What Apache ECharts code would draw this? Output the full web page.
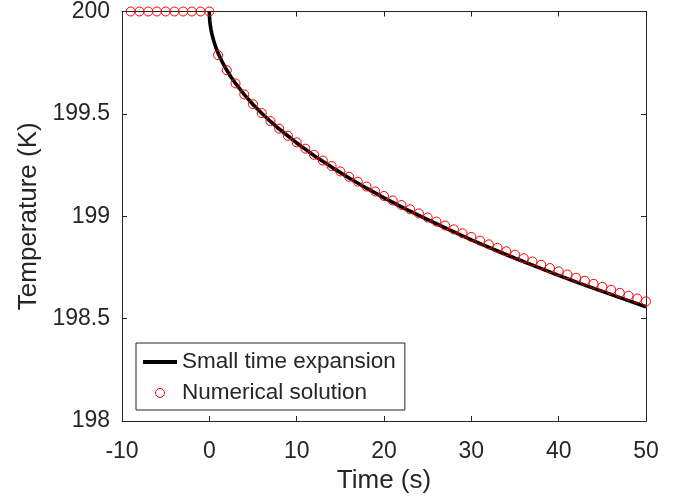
<!DOCTYPE html>
<html>
<head>
<meta charset="utf-8">
<script src="https://cdn.jsdelivr.net/npm/echarts@6/dist/echarts.min.js"></script>
<style>
  html, body { margin: 0; padding: 0; background: #ffffff; }
  #chart { width: 687px; height: 500px; }
</style>
</head>
<body>
<div id="chart"></div>
<script>
// ---- Data ----
var xTicks = [-10, 0, 10, 20, 30, 40, 50];
var yTicks = [198, 198.5, 199, 199.5, 200];

// Small time expansion (solid black line): time (s) and temperature (K)
var lineTime = [0, 0.02, 0.05, 0.1, 0.2, 0.3, 0.5, 0.75, 1, 1.5, 2, 2.5, 3, 4, 5, 6, 7, 8, 10, 12, 14, 16, 18, 20,
  22.5, 25, 27.5, 30, 32.5, 35, 37.5, 40, 42.5, 45, 47.5, 50];
var lineTemp = [200, 199.971, 199.955, 199.936, 199.909, 199.889, 199.857, 199.824, 199.797, 199.752, 199.713,
  199.679, 199.649, 199.594, 199.546, 199.503, 199.463, 199.426, 199.358, 199.296, 199.240, 199.187, 199.137,
  199.090, 199.035, 198.983, 198.933, 198.885, 198.839, 198.795, 198.753, 198.711, 198.671, 198.633, 198.595,
  198.558];

// Numerical solution (red open circles): one point per second from -9 s to 50 s
var numTime = [-9, -8, -7, -6, -5, -4, -3, -2, -1, 0,
  1, 2, 3, 4, 5, 6, 7, 8, 9, 10, 11, 12, 13, 14, 15, 16, 17, 18, 19, 20,
  21, 22, 23, 24, 25, 26, 27, 28, 29, 30, 31, 32, 33, 34, 35, 36, 37, 38, 39, 40,
  41, 42, 43, 44, 45, 46, 47, 48, 49, 50];
var numTemp = [200, 200, 200, 200, 200, 200, 200, 200, 200, 200,
  199.787, 199.713, 199.649, 199.595, 199.547, 199.504, 199.465, 199.428, 199.393, 199.361,
  199.330, 199.300, 199.272, 199.245, 199.219, 199.193, 199.169, 199.145, 199.121, 199.099,
  199.077, 199.055, 199.034, 199.014, 198.994, 198.974, 198.955, 198.936, 198.917, 198.899,
  198.881, 198.863, 198.846, 198.829, 198.812, 198.795, 198.779, 198.763, 198.747, 198.731,
  198.716, 198.700, 198.685, 198.670, 198.655, 198.641, 198.626, 198.612, 198.598, 198.584];

var seriesNames = ['Small time expansion', 'Numerical solution'];
var axisTitles = { x: 'Time (s)', y: 'Temperature (K)' };

// ---- Build chart ----
function pairs(xs, ys) { return xs.map(function (x, i) { return [x, ys[i]]; }); }

var FONT = '"Liberation Sans", Arial, Helvetica, sans-serif';
var INK = '#262626';
var CLEAR = 'rgba(0,0,0,0)';

var chart = echarts.init(document.getElementById('chart'), null, { renderer: 'canvas' });

var xMin = xTicks[0], xMax = xTicks[xTicks.length - 1], xStep = xTicks[1] - xTicks[0];
var yMin = yTicks[0], yMax = yTicks[yTicks.length - 1], yStep = yTicks[1] - yTicks[0];

function baseAxisLine() {
  return { show: true, onZero: false, lineStyle: { color: INK, width: 1 } };
}

var option = {
  animation: false,
  backgroundColor: '#ffffff',
  grid: { left: 122, right: 41, top: 9, bottom: 79, containLabel: false },
  xAxis: [
    {
      type: 'value', position: 'bottom', min: xMin, max: xMax, interval: xStep,
      axisLine: baseAxisLine(),
      axisTick: { show: true, inside: true, length: 5, lineStyle: { color: INK, width: 1 } },
      axisLabel: { show: true, margin: 19, color: INK, fontSize: 23, fontFamily: FONT },
      splitLine: { show: false },
      name: axisTitles.x, nameLocation: 'middle', nameGap: 45,
      nameTextStyle: { color: INK, fontSize: 26, fontFamily: FONT }
    },
    {
      type: 'value', position: 'top', min: xMin, max: xMax, interval: xStep,
      axisLine: baseAxisLine(),
      axisTick: { show: true, inside: true, length: 5, lineStyle: { color: INK, width: 1 } },
      axisLabel: { show: false },
      splitLine: { show: false }
    }
  ],
  yAxis: [
    {
      type: 'value', position: 'left', min: yMin, max: yMax, interval: yStep,
      axisLine: baseAxisLine(),
      axisTick: { show: true, inside: true, length: 5, lineStyle: { color: INK, width: 1 } },
      axisLabel: { show: true, margin: 12, color: INK, fontSize: 23, fontFamily: FONT },
      splitLine: { show: false },
      name: axisTitles.y, nameLocation: 'middle', nameGap: 79, nameRotate: 90,
      nameTextStyle: { color: INK, fontSize: 26, fontFamily: FONT }
    },
    {
      type: 'value', position: 'right', min: yMin, max: yMax, interval: yStep,
      axisLine: baseAxisLine(),
      axisTick: { show: true, inside: true, length: 5, lineStyle: { color: INK, width: 1 } },
      axisLabel: { show: false },
      splitLine: { show: false }
    }
  ],
  legend: {
    orient: 'vertical',
    left: 136, top: 343,
    padding: [6, 9, 4, 7],
    itemGap: 5,
    itemWidth: 34, itemHeight: 9,
    borderColor: INK, borderWidth: 1,
    backgroundColor: '#ffffff',
    textStyle: { color: INK, fontSize: 22.5, fontFamily: FONT, lineHeight: 26 },
    data: [
      { name: seriesNames[0], icon: 'path://M0,0 L34,0 L34,4 L0,4 Z', itemStyle: { color: '#000000', borderWidth: 0 } },
      { name: seriesNames[1], icon: 'circle', itemStyle: { color: CLEAR, borderColor: '#ff0000', borderWidth: 1 } }
    ]
  },
  series: [
    {
      name: seriesNames[0], type: 'line', xAxisIndex: 0, yAxisIndex: 0,
      data: pairs(lineTime, lineTemp),
      symbol: 'none', showSymbol: false, smooth: false, clip: false,
      lineStyle: { color: '#000000', width: 3.6 },
      itemStyle: { color: '#000000' },
      z: 2
    },
    {
      name: seriesNames[1], type: 'scatter', xAxisIndex: 0, yAxisIndex: 0,
      data: pairs(numTime, numTemp),
      symbol: 'circle', symbolSize: 9, clip: false,
      itemStyle: { color: CLEAR, borderColor: '#ff0000', borderWidth: 1, opacity: 1 },
      emphasis: { disabled: true },
      z: 3
    }
  ]
};

chart.setOption(option);
</script>
</body>
</html>
